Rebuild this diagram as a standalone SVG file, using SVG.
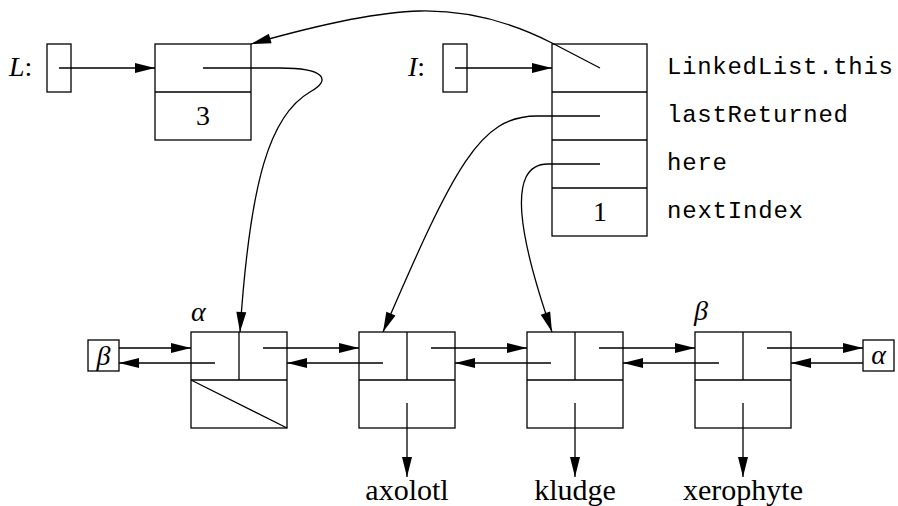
<svg xmlns="http://www.w3.org/2000/svg" width="898" height="506" viewBox="0 0 898 506">
<style>
.box{fill:#fff;stroke:#000;stroke-width:1.3}
.ln{fill:none;stroke:#000;stroke-width:1.3}
.arr{fill:none;stroke:#000;stroke-width:1.3;marker-end:url(#ah)}
.serif{font-family:"Liberation Serif","DejaVu Serif",serif;font-size:28px;fill:#000}
.big{font-size:30px}
.it{font-style:italic}
.mono{font-family:"Liberation Mono","DejaVu Sans Mono",monospace;font-size:24px;fill:#000}
</style>
<defs>
<marker id="ah" markerUnits="userSpaceOnUse" markerWidth="20" markerHeight="10" refX="20" refY="5" orient="auto" overflow="visible">
<path d="M0,0 L20,5 L0,10 z" fill="#000"/>
</marker>
</defs>
<rect width="898" height="506" fill="#fff"/>

<g id="Lvar">
<text class="serif" x="9" y="76"><tspan class="it">L</tspan>:</text>
<rect class="box" x="47" y="44" width="24" height="48"/>
</g>

<g id="listobj">
<rect class="box" x="155" y="44" width="96" height="96"/>
<line class="ln" x1="155" y1="92" x2="251" y2="92"/>
<text class="serif" x="203" y="125" text-anchor="middle">3</text>
</g>

<g id="Ivar">
<text class="serif" x="408" y="76"><tspan class="it">I</tspan>:</text>
<rect class="box" x="443" y="44" width="24" height="48"/>
</g>

<g id="iterobj">
<rect class="box" x="552" y="44" width="95" height="192"/>
<line class="ln" x1="552" y1="92" x2="647" y2="92"/>
<line class="ln" x1="552" y1="140" x2="647" y2="140"/>
<line class="ln" x1="552" y1="188" x2="647" y2="188"/>
<text class="serif" x="600" y="221" text-anchor="middle">1</text>
<text class="mono" x="667" y="74" textLength="226">LinkedList.this</text>
<text class="mono" x="667" y="122" textLength="181">lastReturned</text>
<text class="mono" x="667" y="170" textLength="60">here</text>
<text class="mono" x="667" y="218" textLength="136">nextIndex</text>
</g>

<g id="betaL">
<rect class="box" x="88" y="340" width="31" height="31"/>
<text class="serif it" x="103.5" y="365" text-anchor="middle">β</text>
</g>

<g id="node1">
<text class="serif it" x="191" y="321">α</text>
<rect class="box" x="191" y="332" width="96" height="96"/>
<line class="ln" x1="191" y1="380" x2="287" y2="380"/>
<line class="ln" x1="239" y1="332" x2="239" y2="380"/>
<line class="ln" x1="191" y1="380" x2="287" y2="428"/>
</g>

<g id="node2">
<rect class="box" x="359" y="332" width="96" height="96"/>
<line class="ln" x1="359" y1="380" x2="455" y2="380"/>
<line class="ln" x1="407" y1="332" x2="407" y2="380"/>
<text class="serif big" x="407" y="500" text-anchor="middle">axolotl</text>
</g>

<g id="node3">
<rect class="box" x="527" y="332" width="96" height="96"/>
<line class="ln" x1="527" y1="380" x2="623" y2="380"/>
<line class="ln" x1="575" y1="332" x2="575" y2="380"/>
<text class="serif big" x="575" y="500" text-anchor="middle">kludge</text>
</g>

<g id="node4">
<text class="serif it" x="694" y="320">β</text>
<rect class="box" x="695" y="332" width="96" height="96"/>
<line class="ln" x1="695" y1="380" x2="791" y2="380"/>
<line class="ln" x1="743" y1="332" x2="743" y2="380"/>
<text class="serif big" x="743" y="500" text-anchor="middle">xerophyte</text>
</g>

<g id="alphaR">
<rect class="box" x="863" y="340" width="31" height="31"/>
<text class="serif it" x="878.5" y="364" text-anchor="middle">α</text>
</g>

<g id="connectors">
<line class="arr" x1="59" y1="68" x2="155" y2="68"/>
<line class="arr" x1="455" y1="68" x2="552" y2="68"/>
<path class="arr" d="M203,68 L280,68 C325,68 332,80 310,92 C270,115 250,180 240,332"/>
<path class="arr" d="M600,68 L552,43 C515,24 470,10 420,11 C370,12 300,30 251,44"/>
<path class="arr" d="M600,116 L537,116 C480,116 455,165 383,332"/>
<path class="arr" d="M600,164 L548,164 C505,164 520,240 552,332"/>

<line class="arr" x1="119" y1="348" x2="191" y2="348"/>
<line class="arr" x1="215" y1="363" x2="119" y2="363"/>
<line class="arr" x1="263" y1="348" x2="359" y2="348"/>
<line class="arr" x1="383" y1="363" x2="287" y2="363"/>
<line class="arr" x1="431" y1="348" x2="527" y2="348"/>
<line class="arr" x1="551" y1="363" x2="455" y2="363"/>
<line class="arr" x1="599" y1="348" x2="695" y2="348"/>
<line class="arr" x1="719" y1="363" x2="623" y2="363"/>
<line class="arr" x1="767" y1="348" x2="863" y2="348"/>
<line class="arr" x1="863" y1="363" x2="791" y2="363"/>

<line class="arr" x1="407" y1="403" x2="407" y2="477"/>
<line class="arr" x1="575" y1="403" x2="575" y2="477"/>
<line class="arr" x1="743" y1="403" x2="743" y2="477"/>
</g>
</svg>
